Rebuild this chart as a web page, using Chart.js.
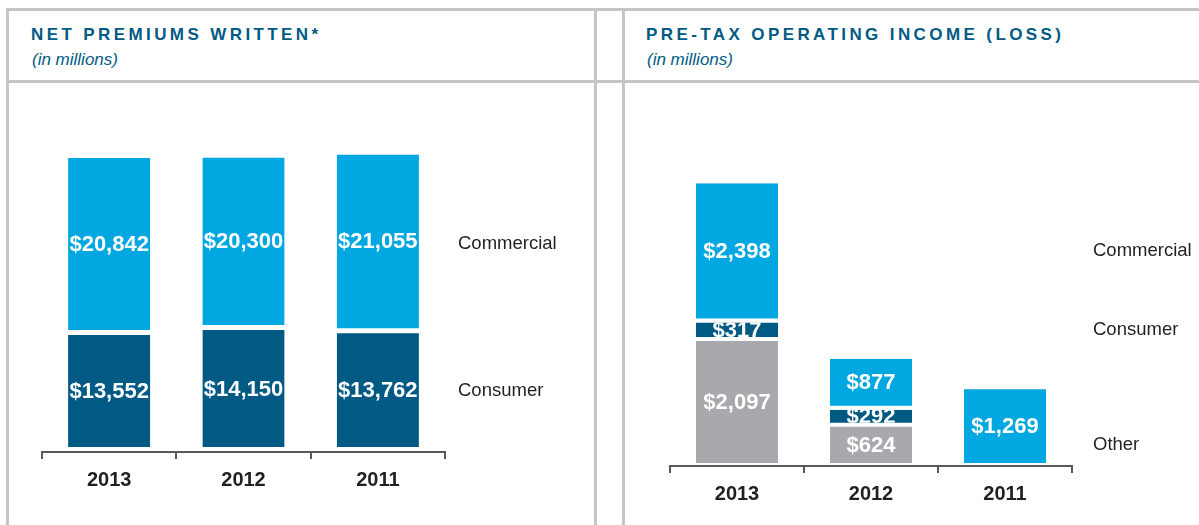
<!DOCTYPE html>
<html>
<head>
<meta charset="utf-8">
<script src="https://cdn.jsdelivr.net/npm/chart.js@4.4.0/dist/chart.umd.min.js"></script>
<style>
  html, body { margin: 0; padding: 0; background: #fff; }
  body { width: 1199px; height: 525px; position: relative; overflow: hidden; font-family: "Liberation Sans", Arial, Helvetica, sans-serif; }
  .hline { position: absolute; left: 6px; right: 0; height: 3px; background: #c4c5c8; }
  .vline { position: absolute; top: 8px; bottom: 0; width: 3px; background: #c4c5c8; }
  .title { position: absolute; top: 25px; font-size: 17px; font-weight: bold; letter-spacing: 3.4px; color: #005b84; white-space: nowrap; }
  .sub { position: absolute; top: 50px; font-size: 17px; font-style: italic; color: #005b84; white-space: nowrap; }
  .box { position: absolute; top: 84px; height: 441px; }
</style>
</head>
<body>
<div class="hline" style="top:8px"></div>
<div class="hline" style="top:80px"></div>
<div class="vline" style="left:6px"></div>
<div class="vline" style="left:594px"></div>
<div class="vline" style="left:622px"></div>

<div class="title" style="left:31px">NET PREMIUMS WRITTEN*</div>
<div class="sub" style="left:32px">(in millions)</div>
<div class="title" style="left:646px">PRE-TAX OPERATING INCOME (LOSS)</div>
<div class="sub" style="left:647px">(in millions)</div>

<div class="box" style="left:9px; width:585px"><canvas id="npw"></canvas></div>
<div class="box" style="left:625px; width:574px"><canvas id="pti"></canvas></div>

<script>
// Net premiums written ($ millions)
const npwYears = ['2013', '2012', '2011'];
const npwConsumer = [13552, 14150, 13762];
const npwCommercial = [20842, 20300, 21055];

// Pre-tax operating income ($ millions)
const ptiYears = ['2013', '2012', '2011'];
const ptiOther = [2097, 624, null];
const ptiConsumer = [317, 292, null];
const ptiCommercial = [2398, 877, 1269];

const LIGHT = '#00a7e1';
const DARK = '#005a84';
const GRAY = '#a7a9ac';
const INK = '#231f20';
const FONT = '"Liberation Sans", Arial, Helvetica, sans-serif';

// white gap between stacked segments, split between the two touching bars
function gapBorder(under, over) {
  return ctx => {
    const ds = ctx.chart.data.datasets;
    let below = false, above = false;
    ds.forEach((d, i) => {
      if (d.data[ctx.dataIndex] == null) return;
      if (i < ctx.datasetIndex) below = true;
      if (i > ctx.datasetIndex) above = true;
    });
    return { top: above ? over : 0, left: 0, right: 0, bottom: below ? under : 0 };
  };
}

function innerBox(el) {
  const p = el.getProps(['x', 'y', 'base', 'width'], true);
  const bw = el.options.borderWidth;
  const t = typeof bw === 'object' ? bw.top : 0;
  const b = typeof bw === 'object' ? bw.bottom : 0;
  return { x: p.x, w: p.width, top: p.y + t, bottom: p.base - b };
}

const barLabels = {
  id: 'barLabels',
  afterDatasetsDraw(chart) {
    const c = chart.ctx;
    const opts = chart.options.plugins.barLabels;
    chart.data.datasets.forEach((ds, di) => {
      const meta = chart.getDatasetMeta(di);
      meta.data.forEach((el, i) => {
        const v = ds.data[i];
        if (v == null) return;
        const r = innerBox(el);
        c.save();
        c.beginPath();
        c.rect(r.x - r.w / 2, r.top, r.w, r.bottom - r.top);
        c.clip();
        c.fillStyle = '#fff';
        c.font = 'bold 22px ' + FONT;
        c.textAlign = 'center';
        c.textBaseline = 'middle';
        c.fillText('$' + v.toLocaleString('en-US'), r.x, (r.top + r.bottom) / 2 + 1);
        c.restore();
      });
      // series name to the right of the bars
      const a = innerBox(meta.data[opts.anchor[di]]);
      c.save();
      c.fillStyle = INK;
      c.font = '18.5px ' + FONT;
      c.textAlign = 'left';
      c.textBaseline = 'middle';
      c.fillText(ds.label, chart.chartArea.right + opts.offset, (a.top + a.bottom) / 2);
      c.restore();
    });
  }
};

function makeChart(id, labels, datasets, yMin, yMax, pad, under, over, labelOpts) {
  datasets.forEach(d => {
    d.borderColor = '#fff';
    d.borderWidth = gapBorder(under, over);
    d.borderSkipped = false;
    d.barPercentage = 0.612;
    d.categoryPercentage = 1;
  });
  return new Chart(document.getElementById(id), {
    type: 'bar',
    data: { labels, datasets },
    options: {
      responsive: true,
      maintainAspectRatio: false,
      animation: false,
      layout: { padding: pad },
      plugins: {
        legend: { display: false },
        tooltip: { enabled: false },
        barLabels: labelOpts
      },
      scales: {
        x: {
          stacked: true,
          border: { display: true, color: '#58595b', width: 2 },
          grid: { drawOnChartArea: false, drawTicks: true, tickLength: 7, color: '#58595b', lineWidth: 2, offset: true },
          ticks: { color: INK, font: { family: FONT, size: 20, weight: 'bold' }, padding: 9 }
        },
        y: { stacked: true, display: false, min: yMin, max: yMax }
      }
    },
    plugins: [barLabels]
  });
}

makeChart('npw', npwYears, [
  { label: 'Consumer', data: npwConsumer, backgroundColor: DARK },
  { label: 'Commercial', data: npwCommercial, backgroundColor: LIGHT }
], -595, 41293, { left: 33, right: 149, top: 16, bottom: 24 }, 3, 2, { anchor: [0, 0], offset: 13 });

makeChart('pti', ptiYears, [
  { label: 'Other', data: ptiOther, backgroundColor: GRAY },
  { label: 'Consumer', data: ptiConsumer, backgroundColor: DARK },
  { label: 'Commercial', data: ptiCommercial, backgroundColor: LIGHT }
], -52, 6243, { left: 45, right: 127, top: 16, bottom: 10 }, 4, 0, { anchor: [1, 0, 0], offset: 21 });
</script>
</body>
</html>
